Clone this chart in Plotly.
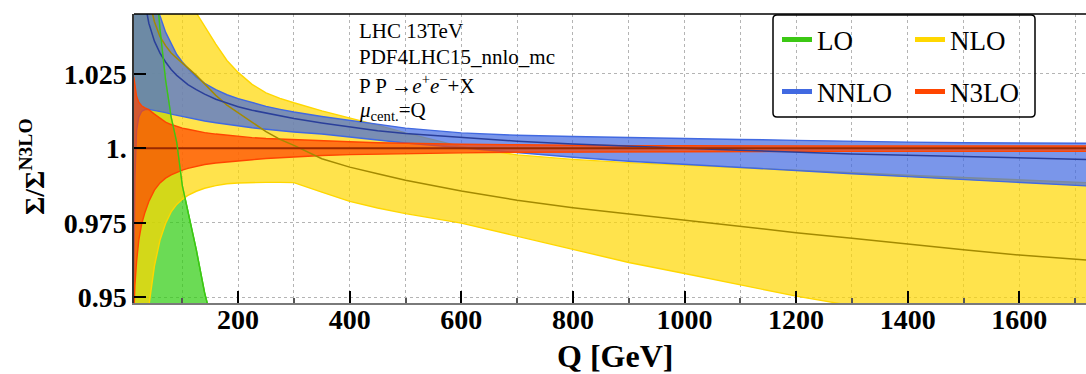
import plotly.graph_objects as go

# ---------------- data ----------------
Q = [13, 15, 18, 22, 27, 33, 40, 50, 60, 70, 80, 90, 100, 110, 125, 140, 160, 180, 200,
     225, 250, 275, 300, 350, 400, 450, 500, 600, 700, 800, 900, 1000, 1100, 1200, 1300,
     1400, 1500, 1600, 1720]

LO_upper = [1.35, 1.32, 1.28, 1.24, 1.20, 1.16, 1.11, 1.062, 1.040, 1.023, 1.0105, 1.002,
            0.9875, 0.979, 0.966, 0.9515, 0.935, 0.922, 0.912, 0.902, 0.894, 0.888, 0.883,
            0.875, 0.869, 0.864, 0.860, 0.853, 0.848, 0.844, 0.841, 0.838, 0.836, 0.834,
            0.832, 0.830, 0.829, 0.828, 0.827]
LO_lower = [0.86, 0.855, 0.85, 0.845, 0.84, 0.835, 0.83, 0.825, 0.82, 0.815, 0.81, 0.806,
            0.802, 0.798, 0.793, 0.788, 0.782, 0.777, 0.772, 0.766, 0.761, 0.757, 0.753,
            0.746, 0.741, 0.737, 0.733, 0.727, 0.722, 0.718, 0.715, 0.712, 0.71, 0.708,
            0.706, 0.704, 0.703, 0.702, 0.701]

NLO_upper = [1.20, 1.18, 1.16, 1.14, 1.125, 1.11, 1.10, 1.085, 1.075, 1.068, 1.062, 1.057,
             1.053, 1.0495, 1.0455, 1.041, 1.035, 1.0295, 1.0255, 1.0215, 1.0186, 1.0168,
             1.0153, 1.0126, 1.0103, 1.0078, 1.0052, 1.0006, 0.9978, 0.9963, 0.9952, 0.9943,
             0.9934, 0.9926, 0.9918, 0.991, 0.9902, 0.9894, 0.9885]
NLO_central = [1.15, 1.13, 1.11, 1.09, 1.075, 1.063, 1.0505, 1.0425, 1.0375, 1.0345, 1.032,
               1.0303, 1.0285, 1.027, 1.0245, 1.0215, 1.0178, 1.0145, 1.012, 1.0088, 1.0056,
               1.003, 1.001, 0.9965, 0.9937, 0.9915, 0.9893, 0.9857, 0.9826, 0.9801, 0.978,
               0.9757, 0.9737, 0.9717, 0.9698, 0.9678, 0.966, 0.9642, 0.9625]
NLO_lower = [0.85, 0.87, 0.89, 0.905, 0.92, 0.935, 0.947, 0.9605, 0.9692, 0.9748, 0.9787,
             0.9812, 0.9829, 0.9842, 0.9856, 0.9866, 0.9875, 0.9881, 0.9884, 0.9886, 0.9886,
             0.9886, 0.9885, 0.9853, 0.9822, 0.98, 0.9781, 0.9749, 0.9705, 0.9661, 0.9617,
             0.958, 0.9542, 0.9504, 0.9472, 0.944, 0.9408, 0.9376, 0.934]

NNLO_upper = [1.12, 1.11, 1.10, 1.09, 1.08, 1.07, 1.06, 1.051, 1.0445, 1.039, 1.035, 1.0315,
              1.029, 1.0268, 1.024, 1.0218, 1.0197, 1.018, 1.0167, 1.0153, 1.0141, 1.0131,
              1.0122, 1.0107, 1.0094, 1.0082, 1.0068, 1.0052, 1.0044, 1.004, 1.0036, 1.0033,
              1.003, 1.0027, 1.0023, 1.0021, 1.0019, 1.0018, 1.0017]
NNLO_central = [1.09, 1.08, 1.07, 1.062, 1.055, 1.049, 1.042, 1.036, 1.032, 1.029, 1.0265,
                1.0245, 1.0228, 1.0214, 1.0197, 1.0182, 1.0165, 1.0152, 1.014, 1.0128, 1.0118,
                1.0108, 1.01, 1.0085, 1.0072, 1.0059, 1.005, 1.0036, 1.0024, 1.0015, 1.0007,
                1.0, 0.9994, 0.9987, 0.9981, 0.9977, 0.9972, 0.9968, 0.9963]
NNLO_lower = [0.955, 0.99, 1.006, 1.0105, 1.0124, 1.013, 1.0131, 1.0128, 1.0124, 1.012, 1.0115,
              1.0111, 1.0107, 1.0103, 1.0097, 1.0092, 1.0086, 1.008, 1.0075, 1.0069, 1.0064,
              1.0059, 1.0055, 1.0048, 1.0038, 1.0028, 1.0018, 1.0002, 0.9986, 0.997, 0.9957,
              0.9946, 0.9935, 0.9925, 0.9915, 0.9905, 0.9895, 0.9885, 0.9874]

N3LO_upper = [1.024, 1.021, 1.0175, 1.0155, 1.0143, 1.0136, 1.013, 1.0115, 1.01, 1.0088, 1.008,
              1.0073, 1.0068, 1.0064, 1.0058, 1.0053, 1.0048, 1.0044, 1.004, 1.0036, 1.0033,
              1.0031, 1.0028, 1.0025, 1.0022, 1.0019, 1.0017, 1.0014, 1.0012, 1.001, 1.0009,
              1.0009, 1.0008, 1.0008, 1.0008, 1.0008, 1.0008, 1.0008, 1.0008]
N3LO_central = [1.0, 1.0, 1.0, 1.0, 1.0, 1.0, 1.0, 1.0, 1.0, 1.0, 1.0, 1.0, 1.0, 1.0, 1.0, 1.0,
                1.0, 1.0, 1.0, 1.0, 1.0, 1.0, 1.0, 1.0, 1.0, 1.0, 1.0, 1.0, 1.0, 1.0, 1.0, 1.0,
                1.0, 1.0, 1.0, 1.0, 1.0, 1.0, 1.0]
N3LO_lower = [0.944, 0.954, 0.962, 0.9692, 0.9745, 0.9785, 0.9822, 0.986, 0.9884, 0.99, 0.9911,
              0.992, 0.9927, 0.9933, 0.994, 0.9946, 0.9951, 0.9955, 0.9958, 0.9962, 0.9966,
              0.9969, 0.9972, 0.9976, 0.9979, 0.9981, 0.9983, 0.9985, 0.9987, 0.9988, 0.9989,
              0.9989, 0.999, 0.999, 0.999, 0.999, 0.999, 0.999, 0.999]

x_ticks = [200, 400, 600, 800, 1000, 1200, 1400, 1600]
y_ticks = [0.95, 0.975, 1.0, 1.025]
y_ticktext = ["0.95", "0.975", "1.", "1.025"]

info_lines = ["LHC 13TeV", "PDF4LHC15_nnlo_mc",
              "P P →<i>e</i><sup>+</sup><i>e</i><sup>−</sup>+X",
              "<i>μ</i><sub>cent.</sub>=Q"]

# ---------------- figure ----------------
SERIF = "Liberation Serif"
W, H = 1086, 374
ML, MR, MT, MB = 134, 0, 14, 71
PW, PH = W - ML - MR, H - MT - MB


def px(x):
    return (x - ML) / PW


def py(y):
    return (H - MB - y) / PH


fig = go.Figure()


def band(lower, upper, edge, fill):
    fig.add_trace(go.Scatter(x=Q, y=lower, mode="lines", line=dict(color=edge, width=1.4),
                             showlegend=False, hoverinfo="skip"))
    fig.add_trace(go.Scatter(x=Q, y=upper, mode="lines", fill="tonexty", fillcolor=fill,
                             line=dict(color=edge, width=1.4), showlegend=False,
                             hoverinfo="skip"))


def line(vals, color, width=1.5):
    fig.add_trace(go.Scatter(x=Q, y=vals, mode="lines", line=dict(color=color, width=width),
                             showlegend=False, hoverinfo="skip"))


band(LO_lower, LO_upper, "#3cc814", "rgba(50,205,20,0.72)")
band(NLO_lower, NLO_upper, "#ffd700", "rgba(255,215,0,0.70)")
band(NNLO_lower, NNLO_upper, "#4169e1", "rgba(65,105,225,0.70)")
band(N3LO_lower, N3LO_upper, "#ff4500", "rgba(255,69,0,0.70)")
# central lines and LO edge on top of the fills
line(NLO_central, "#a48a00")
line(NNLO_central, "#2a3f9a")
line(N3LO_central, "#9a2a00", 2)
line(LO_upper, "#3cc814", 1.4)

# legend entries
leg = [("LO", "#3cc814", "legend"), ("NLO", "#ffd700", "legend"),
       ("NNLO", "#4169e1", "legend2"), ("N3LO", "#ff4500", "legend2")]
for name, col, lg in leg:
    fig.add_trace(go.Scatter(x=[None], y=[None], mode="lines", name=name,
                             line=dict(color=col, width=5), legend=lg))

legend_common = dict(orientation="h", xanchor="left", yanchor="top", traceorder="normal",
                     font=dict(family=SERIF, size=27, color="black"),
                     bgcolor="rgba(0,0,0,0)", borderwidth=0,
                     entrywidth=88, entrywidthmode="pixels", itemclick=False)

annotations = []
line_y = [31, 57, 84, 111]
for t, yy in zip(info_lines, line_y):
    annotations.append(dict(text=t, x=px(357), y=py(yy), xref="paper", yref="paper",
                            xanchor="left", yanchor="middle", showarrow=False,
                            font=dict(family=SERIF, size=21, color="black")))
annotations.append(dict(text="Σ/Σ<sup>N3LO</sup>", x=px(32), y=py(167), xref="paper",
                        yref="paper", xanchor="center", yanchor="middle", textangle=-90,
                        showarrow=False,
                        font=dict(family=SERIF, size=28, color="black", weight="bold")))
annotations.append(dict(text="Q [GeV]", x=px(615), y=py(356), xref="paper", yref="paper",
                        xanchor="center", yanchor="middle", showarrow=False,
                        font=dict(family=SERIF, size=32, color="black", weight="bold")))

# legend box with rounded corners (paper coords)
x0, x1, y0, y1 = px(773), px(1035), py(117), py(15)
rx, ry = 4 / PW, 4 / PH
box = (f"M{x0+rx},{y0} L{x1-rx},{y0} Q{x1},{y0} {x1},{y0+ry} L{x1},{y1-ry} "
       f"Q{x1},{y1} {x1-rx},{y1} L{x0+rx},{y1} Q{x0},{y1} {x0},{y1-ry} L{x0},{y0+ry} "
       f"Q{x0},{y0} {x0+rx},{y0} Z")

shapes = [
    dict(type="path", path=box, xref="paper", yref="paper",
         line=dict(color="black", width=1.5), layer="above"),
    dict(type="line", x0=0, x1=1, y0=1, y1=1, xref="paper", yref="paper",
         line=dict(color="black", width=1.5), layer="above"),
]

grid = dict(gridcolor="#b4b4b4", griddash="dot", gridwidth=1)

fig.update_layout(
    width=W, height=H,
    margin=dict(l=ML, r=MR, t=MT, b=MB, pad=0),
    paper_bgcolor="white", plot_bgcolor="white",
    showlegend=True,
    legend=dict(x=px(777), y=py(15.5), **legend_common),
    legend2=dict(x=px(777), y=py(67.5), **legend_common),
    annotations=annotations,
    shapes=shapes,
    xaxis=dict(range=[13.4, 1719.5], tickvals=x_ticks, ticks="inside", ticklen=12,
               tickwidth=1.5, tickcolor="black", showline=True, linecolor="#7a7a7a",
               linewidth=2, zeroline=False, showgrid=True, ticklabelstandoff=-10, **grid,
               minor=dict(dtick=100, tick0=0, showgrid=True, ticks="inside", ticklen=5,
                          tickcolor="#555", **grid),
               tickfont=dict(family=SERIF, size=28, color="black", weight="bold")),
    yaxis=dict(range=[0.9481, 1.0451], tickvals=y_ticks, ticktext=y_ticktext,
               ticks="inside", ticklen=12, tickwidth=1.5, tickcolor="black",
               showline=True, linecolor="#333", linewidth=1.5, zeroline=False,
               showgrid=True, **grid,
               tickfont=dict(family=SERIF, size=28, color="black", weight="bold")),
)

fig.write_html("out.html")
